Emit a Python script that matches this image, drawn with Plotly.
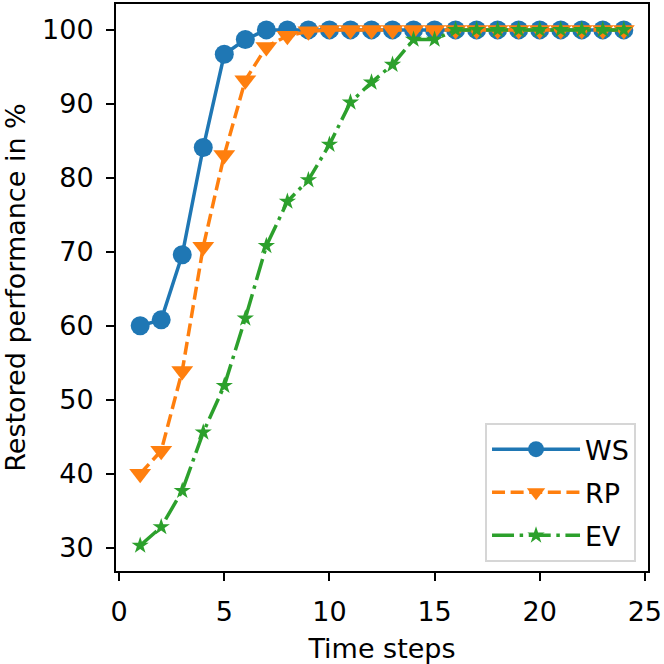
import plotly.graph_objects as go

# ─────────────────────────────────────────────────────────────
# DATA
# ─────────────────────────────────────────────────────────────
time_steps = list(range(1, 25))

ws_values = [60.0, 60.8, 69.6, 84.1, 96.7, 98.7, 100.0, 100.0, 100.0, 100.0,
             100.0, 100.0, 100.0, 100.0, 100.0, 100.0, 100.0, 100.0, 100.0, 100.0,
             100.0, 100.0, 100.0, 100.0]

rp_values = [40.0, 43.1, 53.9, 70.7, 83.1, 93.2, 97.7, 99.2, 99.8, 100.0,
             100.0, 100.0, 100.0, 100.0, 100.0, 100.0, 100.0, 100.0, 100.0, 100.0,
             100.0, 100.0, 100.0, 100.0]

ev_values = [30.3, 32.8, 37.7, 45.6, 51.9, 61.0, 70.8, 76.8, 79.7, 84.5,
             90.2, 92.9, 95.3, 98.7, 98.7, 100.0, 100.0, 100.0, 100.0, 100.0,
             100.0, 100.0, 100.0, 100.0]

x_ticks = [0, 5, 10, 15, 20, 25]
y_ticks = [30, 40, 50, 60, 70, 80, 90, 100]

# ─────────────────────────────────────────────────────────────
# STYLE
# ─────────────────────────────────────────────────────────────
FONT = "DejaVu Sans"
LW = 3.5

fig = go.Figure()

fig.add_trace(go.Scatter(
    x=time_steps, y=ws_values,
    mode="lines+markers", name="WS", legendgroup="ws",
    line=dict(color="#1f77b4", width=LW),
    marker=dict(symbol="circle", size=19, color="#1f77b4")
))

fig.add_trace(go.Scatter(
    x=time_steps, y=rp_values,
    mode="lines+markers", name="RP", legendgroup="rp",
    line=dict(color="#ff7f0e", width=LW, dash="13px,5.6px"),
    marker=dict(symbol="triangle-down", size=19, color="#ff7f0e")
))

fig.add_trace(go.Scatter(
    x=time_steps, y=ev_values,
    mode="lines+markers", name="EV", legendgroup="ev",
    line=dict(color="#2ca02c", width=LW, dash="22px,5.6px,3.5px,5.6px"),
    marker=dict(symbol="star", size=13, color="#2ca02c")
))

axis_common = dict(
    showline=True, linecolor="black", linewidth=2, mirror=True,
    showgrid=False, zeroline=False,
    ticks="outside", ticklen=8, tickwidth=2, tickcolor="black",
    tickfont=dict(family=FONT, size=27, color="black"),
)

fig.update_layout(
    width=664, height=664,
    margin=dict(l=116, r=15, t=2, b=90),
    paper_bgcolor="white", plot_bgcolor="white",
    font=dict(family=FONT, size=27, color="black"),
    xaxis=dict(
        range=[-0.15, 25.15], tickmode="array", tickvals=x_ticks,
        ticklabelstandoff=8,
        title=dict(text="Time steps", font=dict(family=FONT, size=27), standoff=16),
        **axis_common
    ),
    yaxis=dict(
        range=[26.85, 103.5], tickmode="array", tickvals=y_ticks,
        ticklabelstandoff=7,
        title=dict(text="Restored performance in %", font=dict(family=FONT, size=27), standoff=14),
        **axis_common
    ),
    legend=dict(
        x=1 - 12 / 533, y=9 / 572, xanchor="right", yanchor="bottom",
        bgcolor="white", bordercolor="#d6d6d6", borderwidth=2,
        itemwidth=88, tracegroupgap=5,
        font=dict(family=FONT, size=27, color="black"),
    ),
    showlegend=True,
)

# the page body has a default 8px margin; drop it so the figure sits at 0,0
fig.write_html("out.html", config={"displayModeBar": False},
               post_script="document.body.style.margin='0';")
